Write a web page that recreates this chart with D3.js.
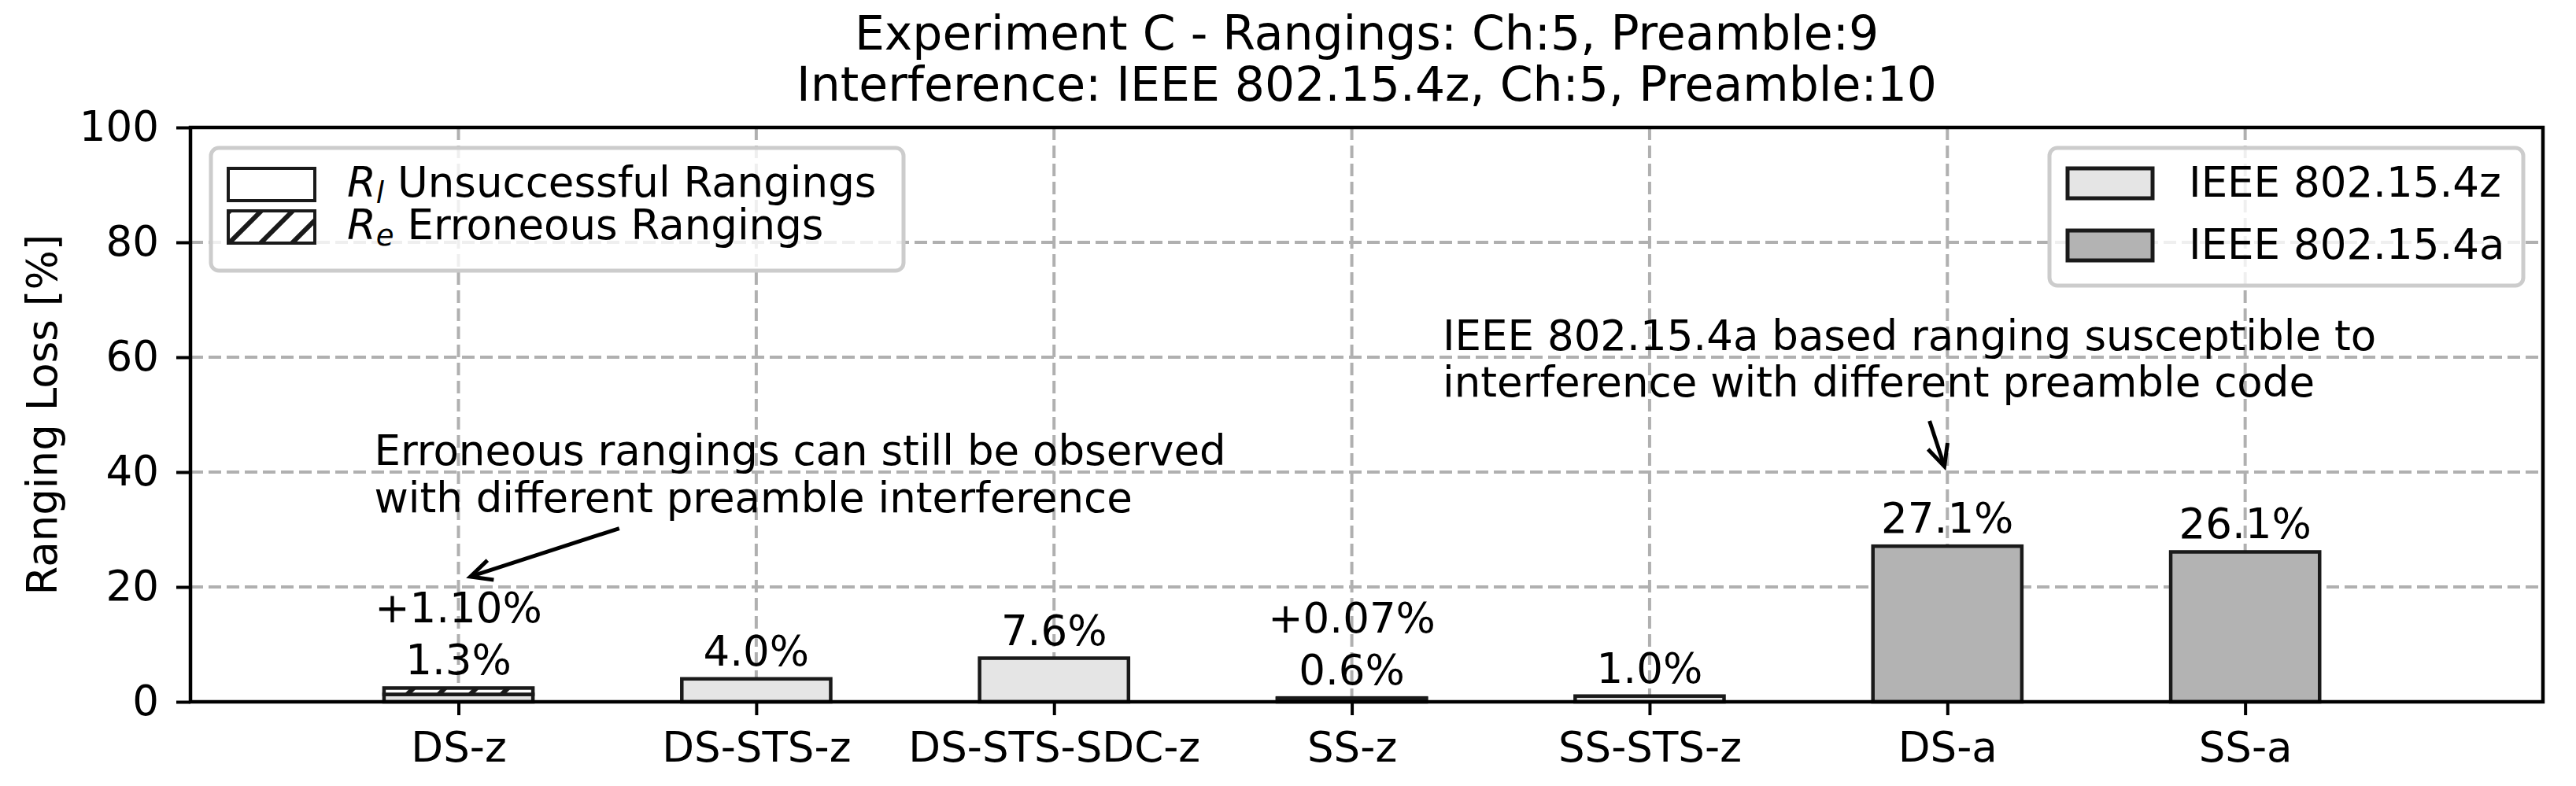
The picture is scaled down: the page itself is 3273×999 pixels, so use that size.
<!DOCTYPE html>
<html>
<head>
<meta charset="utf-8">
<script src="https://cdn.jsdelivr.net/npm/d3@7"></script>
<style>
  body { margin: 0; background: #fff; }
  text { font-family: "DejaVu Sans", sans-serif; }
</style>
</head>
<body>
<div id="chart"></div>
<script>
// chart data
var categories = ["DS-z", "DS-STS-z", "DS-STS-SDC-z", "SS-z", "SS-STS-z", "DS-a", "SS-a"];
var standards = ["z", "z", "z", "z", "z", "a", "a"];
var unsuccessful = [1.3, 4.0, 7.6, 0.6, 1.0, 27.1, 26.1];
var erroneous = [1.10, 0, 0, 0.07, 0, 0, 0];
var yTicks = [0, 20, 40, 60, 80, 100];
var titleLines = ["Experiment C - Rangings: Ch:5, Preamble:9", "Interference: IEEE 802.15.4z, Ch:5, Preamble:10"];
var standardNames = ["IEEE 802.15.4z", "IEEE 802.15.4a"];
var note1 = ["Erroneous rangings can still be observed", "with different preamble interference"];
var note2 = ["IEEE 802.15.4a based ranging susceptible to", "interference with different preamble code"];

function init() {
  var w = 3273;
  var h = 999;
  var left = 242, right = 3231, top = 162, bottom = 892;
  var edge = "#1a1a1a";
  var fills = { z: "#e5e5e5", a: "#b3b3b3" };
  var fs = "53px";

  var svg = d3.select("#chart").append("svg").attr("width", w).attr("height", h);

  //hatch pattern for erroneous rangings
  var pat = svg.append("defs").append("pattern")
    .attr("id", "hatch").attr("patternUnits", "userSpaceOnUse")
    .attr("width", 40).attr("height", 40);
  pat.append("rect").attr("width", 40).attr("height", 40).attr("fill", "#fff");
  pat.append("path")
    .attr("d", "M-10,10 L10,-10 M0,40 L40,0 M30,50 L50,30")
    .attr("stroke", edge).attr("stroke-width", 6);

  var xScale = d3.scaleLinear().domain([-0.9, 7.0]).range([left, right]);
  var yScale = d3.scaleLinear().domain([0, 100]).range([bottom, top]);

  //grid
  var grid = svg.append("g").attr("stroke", "#b0b0b0").attr("stroke-width", 4).attr("stroke-dasharray", "16,7");
  grid.selectAll("line.h").data(yTicks).enter().append("line")
    .attr("x1", left).attr("x2", right)
    .attr("y1", function (d) { return yScale(d); })
    .attr("y2", function (d) { return yScale(d); });
  grid.selectAll("line.v").data(categories).enter().append("line")
    .attr("y1", top).attr("y2", bottom)
    .attr("x1", function (d, i) { return xScale(i); })
    .attr("x2", function (d, i) { return xScale(i); });

  //bars
  var bars = svg.append("g");
  categories.forEach(function (c, i) {
    bars.append("rect")
      .attr("x", xScale(i - 0.25))
      .attr("width", xScale(i + 0.25) - xScale(i - 0.25))
      .attr("y", yScale(unsuccessful[i]))
      .attr("height", yScale(0) - yScale(unsuccessful[i]))
      .attr("fill", fills[standards[i]])
      .attr("stroke", edge).attr("stroke-width", 4.5);
    if (erroneous[i] > 0) {
      bars.append("rect")
        .attr("x", xScale(i - 0.25))
        .attr("width", xScale(i + 0.25) - xScale(i - 0.25))
        .attr("y", yScale(unsuccessful[i] + erroneous[i]))
        .attr("height", yScale(unsuccessful[i]) - yScale(unsuccessful[i] + erroneous[i]))
        .attr("fill", "url(#hatch)")
        .attr("stroke", edge).attr("stroke-width", 4.5);
    }
    //value labels
    var ly = yScale(unsuccessful[i] + erroneous[i]) - 17;
    bars.append("text")
      .attr("x", xScale(i)).attr("y", ly)
      .attr("text-anchor", "middle").style("font-size", fs)
      .text(unsuccessful[i].toFixed(1) + "%");
    if (erroneous[i] > 0) {
      bars.append("text")
        .attr("x", xScale(i)).attr("y", ly - 66)
        .attr("text-anchor", "middle").style("font-size", fs)
        .text("+" + erroneous[i].toFixed(2) + "%");
    }
  });

  //axes
  var xAxis = d3.axisBottom(xScale).tickValues(d3.range(categories.length))
    .tickFormat(function (i) { return categories[i]; }).tickSize(17).tickPadding(21);
  var yAxis = d3.axisLeft(yScale).tickValues(yTicks).tickSize(18).tickPadding(22);

  var gx = svg.append("g").attr("transform", "translate(0," + bottom + ")").call(xAxis);
  var gy = svg.append("g").attr("transform", "translate(" + left + ",0)").call(yAxis);
  [gx, gy].forEach(function (g) {
    g.select(".domain").remove();
    g.selectAll(".tick line").attr("stroke", "#000").attr("stroke-width", 4);
    g.selectAll(".tick text").attr("fill", "#000").style("font-size", fs)
      .style("font-family", "DejaVu Sans");
  });

  //frame
  svg.append("rect")
    .attr("x", left).attr("y", top)
    .attr("width", right - left).attr("height", bottom - top)
    .attr("fill", "none").attr("stroke", "#000").attr("stroke-width", 4.5);

  //title
  svg.selectAll(".title").data(titleLines).enter().append("text")
    .attr("x", (left + right) / 2)
    .attr("y", function (d, i) { return 63 + i * 65; })
    .attr("text-anchor", "middle").style("font-size", "60px")
    .text(function (d) { return d; });

  //y axis title
  svg.append("text")
    .attr("transform", "translate(72," + (top + bottom) / 2 + ") rotate(-90)")
    .attr("text-anchor", "middle").style("font-size", fs)
    .text("Ranging Loss [%]");

  //annotations
  function arrow(from, to) {
    var x1 = xScale(from[0]), y1 = yScale(from[1]);
    var x2 = xScale(to[0]), y2 = yScale(to[1]);
    var a = Math.atan2(y2 - y1, x2 - x1);
    var len = 30, spread = 0.45;
    svg.append("line").attr("x1", x1).attr("y1", y1).attr("x2", x2).attr("y2", y2)
      .attr("stroke", "#000").attr("stroke-width", 5);
    svg.append("path")
      .attr("d", "M" + (x2 - len * Math.cos(a - spread)) + "," + (y2 - len * Math.sin(a - spread)) +
        " L" + x2 + "," + y2 +
        " L" + (x2 - len * Math.cos(a + spread)) + "," + (y2 - len * Math.sin(a + spread)))
      .attr("fill", "none").attr("stroke", "#000").attr("stroke-width", 5);
  }
  function note(lines, xv, y0, step) {
    svg.append("g").selectAll("text").data(lines).enter().append("text")
      .attr("x", xScale(xv))
      .attr("y", function (d, i) { return y0 + i * step; })
      .style("font-size", fs)
      .text(function (d) { return d; });
  }
  note(note1, -0.283, 591, 60);
  arrow([0.54, 30.2], [0.04, 21.8]);
  note(note2, 3.305, 445, 59);
  arrow([4.94, 48.9], [4.99, 41.0]);

  //legend 1: loss type
  var lg1 = svg.append("g");
  lg1.append("rect").attr("x", 268).attr("y", 188).attr("width", 880).attr("height", 156)
    .attr("rx", 10).attr("fill", "#fff").attr("fill-opacity", 0.8)
    .attr("stroke", "#cccccc").attr("stroke-width", 5);
  var types = [
    { sym: "l", label: " Unsuccessful Rangings", fill: "#fff" },
    { sym: "e", label: " Erroneous Rangings", fill: "url(#hatch)" }
  ];
  types.forEach(function (t, i) {
    lg1.append("rect").attr("x", 290).attr("y", 214 + i * 54).attr("width", 110).attr("height", 41)
      .attr("fill", t.fill).attr("stroke", edge).attr("stroke-width", 4);
    var tx = lg1.append("text").attr("x", 441).attr("y", 250 + i * 54).style("font-size", fs);
    tx.append("tspan").style("font-style", "italic").text("R");
    tx.append("tspan").style("font-style", "italic").style("font-size", "37px").attr("dy", 8).text(t.sym);
    tx.append("tspan").attr("dy", -8).text(t.label);
  });

  //legend 2: standards
  var lg2 = svg.append("g");
  lg2.append("rect").attr("x", 2604).attr("y", 188).attr("width", 602).attr("height", 175)
    .attr("rx", 10).attr("fill", "#fff").attr("fill-opacity", 0.8)
    .attr("stroke", "#cccccc").attr("stroke-width", 5);
  standardNames.forEach(function (s, i) {
    lg2.append("rect").attr("x", 2627).attr("y", 214 + i * 79).attr("width", 108).attr("height", 38)
      .attr("fill", i === 0 ? fills.z : fills.a).attr("stroke", edge).attr("stroke-width", 5);
    lg2.append("text").attr("x", 2781).attr("y", 250 + i * 79).style("font-size", fs).text(s);
  });
}

window.onload = init;
</script>
</body>
</html>
